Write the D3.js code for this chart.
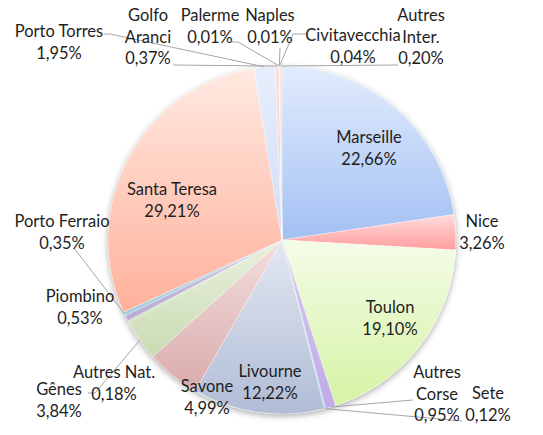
<!DOCTYPE html>
<html>
<head>
<meta charset="utf-8">
<script src="https://cdn.jsdelivr.net/npm/d3@7"></script>
<style>
  body { margin: 0; background: #fff; }
  text { font-family: Lato, "Open Sans", sans-serif; font-size: 16.5px; fill: #1e1e1e; }
</style>
</head>
<body>
<script>
// parts de trafic par port (%), ordre horaire depuis midi
const ports = ["Marseille", "Nice", "Toulon", "Autres Corse", "Sete", "Livourne", "Savone", "Gênes",
  "Autres Nat.", "Piombino", "Porto Ferraio", "Santa Teresa", "Porto Torres", "Golfo Aranci",
  "Palerme", "Naples", "Civitavecchia", "Autres Inter."];
const shares = [22.66, 3.26, 19.10, 0.95, 0.12, 12.22, 4.99, 3.84,
  0.18, 0.53, 0.35, 29.21, 1.95, 0.37,
  0.01, 0.01, 0.04, 0.20];
const shareLabels = ["22,66%", "3,26%", "19,10%", "0,95%", "0,12%", "12,22%", "4,99%", "3,84%",
  "0,18%", "0,53%", "0,35%", "29,21%", "1,95%", "0,37%",
  "0,01%", "0,01%", "0,04%", "0,20%"];

// gradient colours (top, bottom) per slice
const fills = [
  ["#e2ecfd", "#a3c0f3"], ["#ffdcdc", "#ff9d9d"], ["#f4fce8", "#d5f3a4"], ["#d8cdf0", "#bfaae6"],
  ["#b8e6f4", "#8fd4ea"], ["#e3e8f1", "#b0bcd6"], ["#f3dede", "#daabab"], ["#e9f0de", "#cadbb2"],
  ["#dfe9cf", "#cddcb6"], ["#cfc6e2", "#b9acd4"], ["#b9dde9", "#a0cee0"], ["#ffe9e1", "#ffb19b"],
  ["#e6eefc", "#d0def8"], ["#fde0e0", "#f6c6c6"], ["#e6f2d4", "#d4e8b8"], ["#dcd2ee", "#c9bde4"],
  ["#c8e8f2", "#b0dcec"], ["#fde0d4", "#f8c2ad"]
];

// label placement: [x, first baseline y, wrapped lines], leader: label-side points
const labelLayout = {
  "Marseille": [369, 143], "Nice": [482, 227], "Toulon": [390, 313],
  "Autres Corse": [437, 378, ["Autres", "Corse"]], "Sete": [488, 399],
  "Livourne": [270, 377], "Savone": [207, 392], "Gênes": [59, 395],
  "Autres Nat.": [114, 378], "Piombino": [80, 302], "Porto Ferraio": [62, 227],
  "Santa Teresa": [172, 195], "Porto Torres": [59, 37],
  "Golfo Aranci": [148, 21, ["Golfo", "Aranci"]], "Palerme": [210, 21], "Naples": [270, 21],
  "Civitavecchia": [353, 41], "Autres Inter.": [421, 21, ["Autres", "Inter."]]
};
const leaders = {
  "Autres Corse": [[413, 400]], "Sete": [[462, 421]], "Gênes": [[88, 393], [95, 393]],
  "Porto Ferraio": [[74, 248]], "Porto Torres": [[104, 34], [110, 34]],
  "Golfo Aranci": [[173, 65]], "Palerme": [[231, 42], [238, 42]], "Naples": [[280, 48]],
  "Civitavecchia": [[306, 34], [293, 34]], "Autres Inter.": [[398, 65]]
};

const width = 543, height = 435;
const cx = 282, cy = 240, r = 174;

let svg = d3.select("body").append("svg")
  .attr("width", width)
  .attr("height", height);

let defs = svg.append("defs");
let shadow = defs.append("filter").attr("id", "shadow")
  .attr("x", "-10%").attr("y", "-10%").attr("width", "120%").attr("height", "120%");
shadow.append("feDropShadow")
  .attr("dx", 0).attr("dy", 2).attr("stdDeviation", 3)
  .attr("flood-color", "#000").attr("flood-opacity", 0.35);

fills.forEach((c, i) => {
  let g = defs.append("linearGradient").attr("id", "grad" + i)
    .attr("x1", 0).attr("y1", 0).attr("x2", 0).attr("y2", 1);
  g.append("stop").attr("offset", "0%").attr("stop-color", c[0]);
  g.append("stop").attr("offset", "100%").attr("stop-color", c[1]);
});

let data = ports.map((p, i) => ({name: p, value: shares[i], label: shareLabels[i], idx: i}));

let pie = d3.pie().sort(null).value(d => d.value);
let arcs = pie(data);
let arc = d3.arc().innerRadius(0).outerRadius(r);

let g = svg.append("g").attr("transform", `translate(${cx},${cy})`);

// shadow disc behind the pie
g.append("circle").attr("r", r).attr("fill", "#fff").attr("filter", "url(#shadow)");

g.selectAll("path.slice")
  .data(arcs)
  .enter().append("path")
  .attr("class", "slice")
  .attr("d", arc)
  .attr("fill", d => `url(#grad${d.data.idx})`)
  .attr("stroke", "rgba(255,255,255,0.55)")
  .attr("stroke-width", 0.6);

// leader lines: label point(s) -> middle of the slice's outer edge
let line = d3.line();
arcs.forEach(d => {
  let pts = leaders[d.data.name];
  if (!pts) return;
  let mid = (d.startAngle + d.endAngle) / 2;
  let end = [cx + r * Math.sin(mid), cy - r * Math.cos(mid)];
  svg.append("path")
    .attr("d", line(pts.concat([end])))
    .attr("fill", "none")
    .attr("stroke", "#a6a6a6")
    .attr("stroke-width", 1);
});

// labels
arcs.forEach(d => {
  let lay = labelLayout[d.data.name];
  let lines = (lay[2] || [d.data.name]).concat([d.data.label]);
  let t = svg.append("text")
    .attr("text-anchor", "middle");
  lines.forEach((s, k) => {
    t.append("tspan")
      .attr("x", lay[0])
      .attr("y", lay[1] + k * 21.5)
      .text(s);
  });
});
</script>
</body>
</html>
